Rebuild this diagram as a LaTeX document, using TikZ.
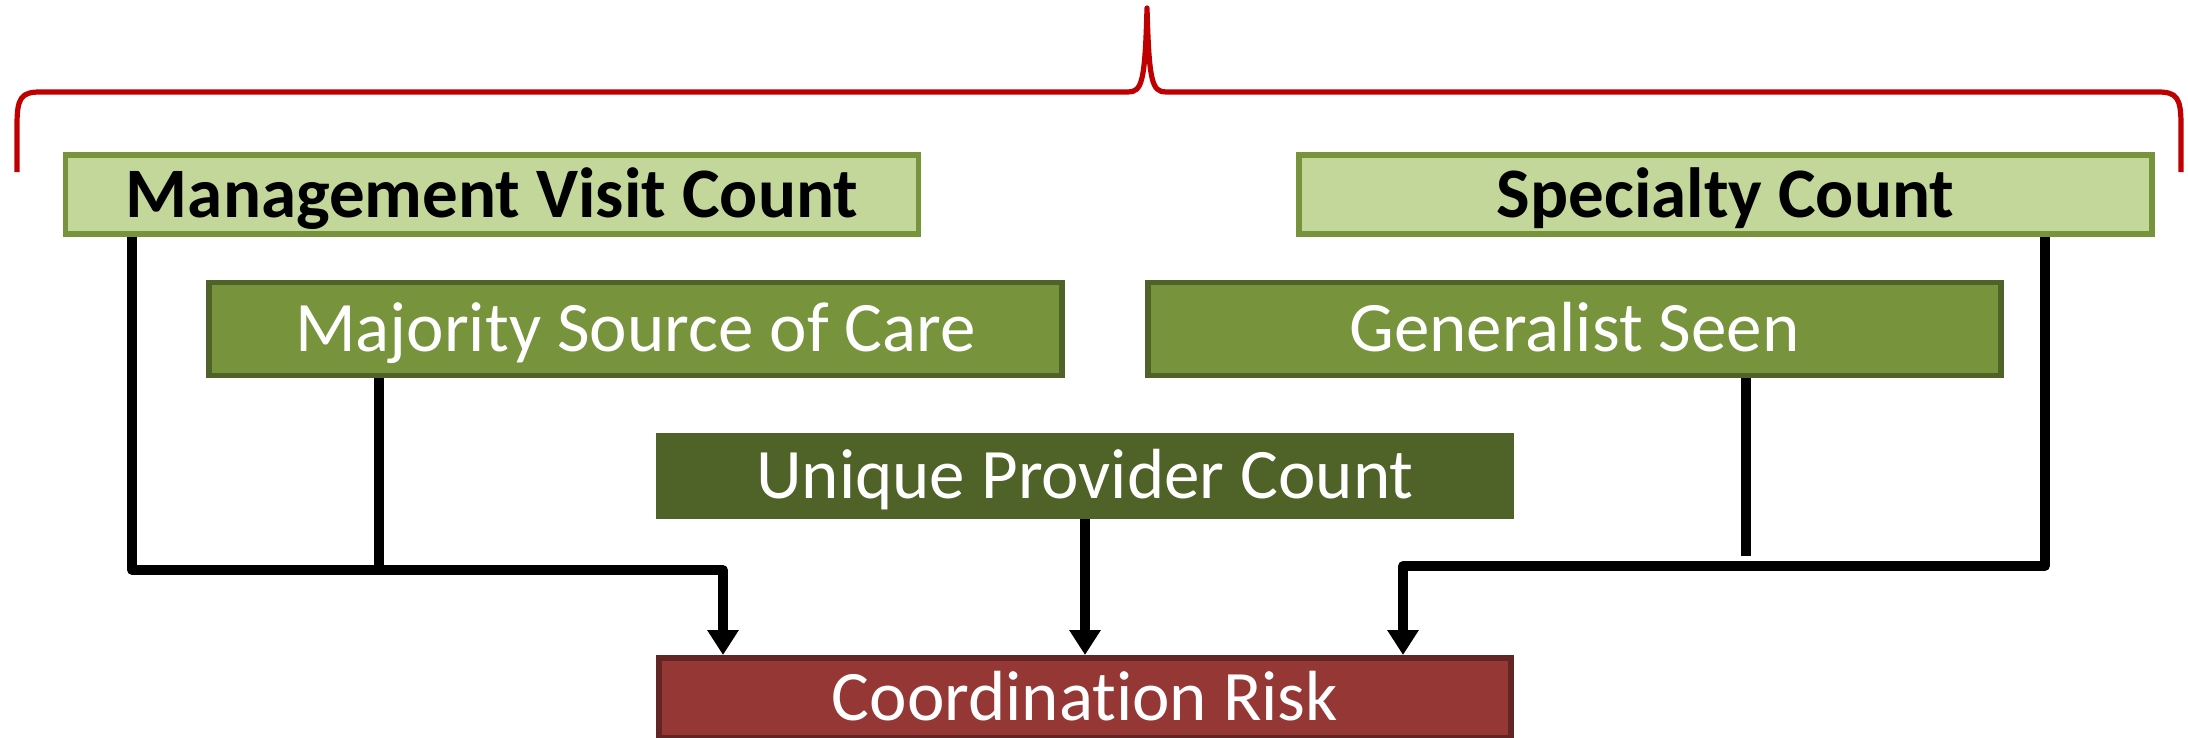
\documentclass[tikz,border=0pt]{standalone}
\usepackage{fontspec}
\setmainfont{Carlito}[Ligatures={NoCommon}, RawFeature={-liga;-dlig}]
\usetikzlibrary{arrows.meta}
\definecolor{lightfill}{HTML}{C4D79B}
\definecolor{midgreen}{HTML}{77933C}
\definecolor{darkgreen}{HTML}{4F6228}
\definecolor{riskfill}{HTML}{953735}
\definecolor{riskborder}{HTML}{632523}
\definecolor{bracered}{HTML}{C00000}
\tikzset{
  basebox/.style={rectangle, inner sep=0pt, text height=22.9pt, text depth=0pt,
    font=\fontsize{35.5pt}{42pt}\selectfont},
  lightbox/.style={basebox, fill=lightfill, draw=midgreen, line width=2.75pt,
    minimum width=426.5pt, minimum height=39.5pt, text=black, font=\fontsize{35.5pt}{42pt}\selectfont\bfseries},
  midbox/.style={basebox, fill=midgreen, draw=darkgreen, line width=2.75pt,
    minimum width=426.5pt, minimum height=46.5pt, text=white},
  darkbox/.style={basebox, fill=darkgreen, draw=darkgreen, line width=0.5pt,
    minimum width=428.5pt, minimum height=42.5pt, text=white},
  riskbox/.style={basebox, fill=riskfill, draw=riskborder, line width=3pt,
    minimum width=426pt, minimum height=40pt, text=white},
  conn/.style={line width=4.75pt, black, line join=round},
  arr/.style={conn, -{Triangle[width=15pt,length=12.5pt]}},
  bracestyle/.style={draw=bracered, line width=2.6pt, line join=round}
}
\begin{document}
\begin{tikzpicture}[x=0.5pt,y=-0.5pt]
\useasboundingbox (0,0) rectangle (2188,738);
% brace
\draw[bracestyle] (17,172) -- (17,125) .. controls (17,98) and (21,92) .. (40,92)
  -- (1128,92) .. controls (1142,92) and (1145,82) .. (1147,8)
  .. controls (1149,82) and (1152,92) .. (1166,92)
  -- (2158,92) .. controls (2177,92) and (2181,98) .. (2181,125) -- (2181,172);
% boxes
\node[lightbox] (mvc) at (492,194.5) {Management Visit Count};
\node[lightbox] (sc) at (1725.5,194.5) {Specialty Count};
\node[midbox] (msc) at (635.5,329) {Majority Source of Care};
\node[midbox] (gs) at (1574.5,329) {Generalist Seen};
\node[darkbox] (upc) at (1085,476) {Unique Provider Count};
\node[riskbox] (cr) at (1085,698) {Coordination Risk};
% junction coordinates
\coordinate (jl) at (132,570);
\coordinate (al) at (723,570);
\coordinate (jm) at (379,570);
\coordinate (jr) at (2045,566);
\coordinate (ar) at (1403,566);
\coordinate (gend) at (1746,556);
% connectors
\draw[arr] (jl |- mvc.south) -- (jl) -- (al) -- (al |- cr.north);
\draw[conn] (jm |- msc.south) -- (jm);
\draw[arr] (upc.south) -- (cr.north);
\draw[arr] (jr |- sc.south) -- (jr) -- (ar) -- (ar |- cr.north);
\draw[conn] (gend |- gs.south) -- (gend);
\end{tikzpicture}
\end{document}
